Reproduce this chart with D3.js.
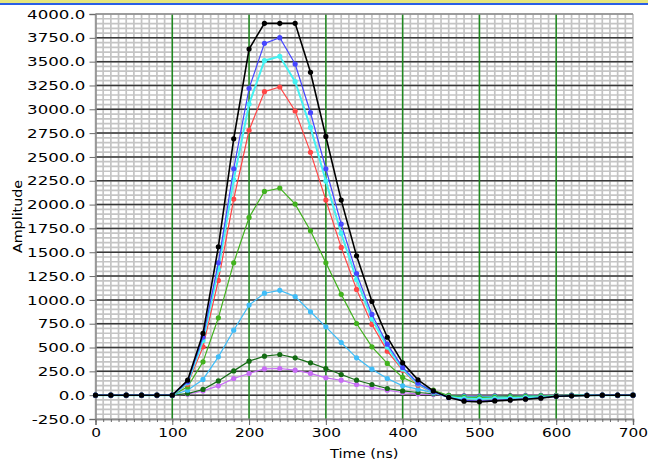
<!DOCTYPE html>
<html>
<head>
<meta charset="utf-8">
<script src="https://cdn.jsdelivr.net/npm/d3@7"></script>
<style>
  body { margin: 0; background: #fff; }
  svg text { font-family: "DejaVu Sans", Verdana, sans-serif; fill: #000; }
</style>
</head>
<body>
<div id="chart"></div>
<script>
// sample times (ns), one point every 20 ns
var times = d3.range(0, 701, 20);

// amplitude of each trace
var blackSeries  = [0,0,0,0,0,0,157,648,1557,2690,3632,3902,3902,3902,3388,2715,2047,1462,983,608,339,161,45,-24,-63,-70,-60,-52,-42,-31,-12,-7,-3,0,0,0];
var blueSeries   = [0,0,0,0,0,0,140,610,1389,2376,3220,3692,3752,3475,2964,2376,1795,1277,847,535,291,125,35,-25,-55,-62,-55,-47,-38,-28,-12,-6,-2,0,0,0];
var cyanSeries   = [0,0,0,0,0,0,130,575,1320,2260,3055,3510,3556,3290,2810,2247,1697,1214,800,505,275,118,30,-18,-35,-40,-35,-30,-25,-20,-10,-5,-2,0,0,0];
var redSeries    = [0,0,0,0,0,0,115,507,1204,2058,2780,3185,3234,2982,2548,2047,1551,1110,742,462,262,105,28,-20,-45,-50,-45,-40,-33,-25,-10,-5,-2,0,0,0];
var greenSeries  = [0,0,0,0,0,0,87,350,812,1389,1865,2138,2173,2005,1725,1389,1058,752,507,333,186,112,52,-5,-22,-25,-22,-18,-15,-10,-5,-3,-1,0,0,0];
var skySeries    = [0,0,0,0,0,0,52,165,402,682,945,1070,1100,1035,875,717,553,392,273,175,98,63,24,-8,-15,-18,-16,-14,-10,-8,-5,-2,0,0,0,0];
var darkSeries   = [0,0,0,0,0,0,17,60,150,255,357,409,427,392,339,280,217,157,112,70,45,28,15,-3,-10,-12,-10,-8,-6,-4,-2,0,0,0,0,0];
var violetSeries = [0,0,0,0,0,0,10,45,98,175,228,276,280,262,228,182,157,112,81,52,28,12,8,-2,-5,-6,-5,-4,-3,-2,-1,0,0,0,0,0];

// tick values
var xMajorTicks = d3.range(0, 701, 100);
var xMinorTicks = d3.range(0, 701, 10);
var yMajorTicks = d3.range(-250, 4001, 250);
var yMinorTicks = d3.range(-250, 4001, 50);

// draw order: back to front
var traces = [
  { values: violetSeries, color: "#c76cf5", width: 1.2 },
  { values: darkSeries,   color: "#146c14", width: 1.2 },
  { values: skySeries,    color: "#40bdf8", width: 1.2 },
  { values: greenSeries,  color: "#42b21e", width: 1.2 },
  { values: redSeries,    color: "#ff4646", width: 1.2 },
  { values: cyanSeries,   color: "#44f2f2", width: 2 },
  { values: blueSeries,   color: "#4646ff", width: 1.2 },
  { values: blackSeries,  color: "#000000", width: 1.6 }
];

var svgWidth = 648;
var svgHeight = 461;

var svg = d3.select("#chart")
    .append("svg")
    .attr("width", svgWidth)
    .attr("height", svgHeight);

// window title strip
svg.append("rect").attr("x", 0).attr("y", 0).attr("width", svgWidth).attr("height", 3).attr("fill", "#e6e67c");
svg.append("rect").attr("x", 0).attr("y", 3).attr("width", svgWidth).attr("height", 2).attr("fill", "#2a5ee6");

var x = d3.scaleLinear().domain([0, 700]).range([95.5, 633]);
var y = d3.scaleLinear().domain([-250, 4000]).range([419, 14]);

var grid = svg.append("g");

// minor grid
grid.selectAll(".vminor")
    .data(xMinorTicks)
    .enter()
    .append("line")
    .attr("x1", d => x(d)).attr("x2", d => x(d))
    .attr("y1", y(4000)).attr("y2", y(-250))
    .attr("stroke", "#c4c4c4")
    .attr("stroke-width", 1.7);

grid.selectAll(".hminor")
    .data(yMinorTicks)
    .enter()
    .append("line")
    .attr("x1", x(0)).attr("x2", x(700))
    .attr("y1", d => y(d)).attr("y2", d => y(d))
    .attr("stroke", "#c4c4c4")
    .attr("stroke-width", 1.7);

// major grid
grid.selectAll(".hmajor")
    .data(yMajorTicks.filter(d => d > -250 && d < 4000))
    .enter()
    .append("line")
    .attr("x1", x(0)).attr("x2", x(700))
    .attr("y1", d => y(d)).attr("y2", d => y(d))
    .attr("stroke", "#3a3a3a")
    .attr("stroke-width", 1.5);

grid.selectAll(".vmajor")
    .data(xMajorTicks.filter(d => d > 0 && d < 700))
    .enter()
    .append("line")
    .attr("x1", d => x(d)).attr("x2", d => x(d))
    .attr("y1", y(4000)).attr("y2", y(-250))
    .attr("stroke", "#1f8a1f")
    .attr("stroke-width", 1.5);

// frame
grid.append("line")
    .attr("x1", x(0)).attr("x2", x(700)).attr("y1", y(4000)).attr("y2", y(4000))
    .attr("stroke", "#8a8a8a").attr("stroke-width", 1.5);

// axes, with a plain hyphen for negatives
var fmt1 = d3.format(".1f");
var leftAxis = d3.axisLeft(y)
    .tickValues(yMajorTicks)
    .tickFormat(d => fmt1(d).replace("\u2212", "-"))
    .tickSize(6)
    .tickPadding(2);

var yAxisG = svg.append("g")
    .attr("transform", `translate(${x(0)}, 0)`)
    .call(leftAxis);

var bottomAxis = d3.axisBottom(x)
    .tickValues(xMajorTicks)
    .tickFormat(d3.format("d"))
    .tickSize(6)
    .tickPadding(3);

var xAxisG = svg.append("g")
    .attr("transform", `translate(0, ${y(-250)})`)
    .call(bottomAxis);

var minorAxis = d3.axisBottom(x)
    .tickValues(xMinorTicks)
    .tickFormat("")
    .tickSize(3);

var xMinorG = svg.append("g")
    .attr("transform", `translate(0, ${y(-250)})`)
    .call(minorAxis);

[yAxisG, xAxisG, xMinorG].forEach(function(g) {
    g.select(".domain").attr("stroke", "#8a8a8a").attr("stroke-width", 1.5);
    g.selectAll(".tick line").attr("stroke", "#6a6a6a");
    g.selectAll("text")
        .attr("font-size", 13)
        .attr("font-family", "DejaVu Sans");
});
yAxisG.selectAll("text").attr("transform", "scale(1.28,1)");
xAxisG.selectAll("text").attr("transform", "scale(1.18,1)");

// traces
var line = d3.line()
    .x((d, i) => x(times[i]))
    .y(d => y(d));

traces.forEach(function(tr) {
    var g = svg.append("g");
    g.append("path")
        .datum(tr.values)
        .attr("d", line)
        .attr("fill", "none")
        .attr("stroke", tr.color)
        .attr("stroke-width", tr.width);
    g.selectAll("circle")
        .data(tr.values)
        .enter()
        .append("circle")
        .attr("cx", (d, i) => x(times[i]))
        .attr("cy", d => y(d))
        .attr("r", 2.6)
        .attr("fill", tr.color);
});

// axis titles
svg.append("text")
    .attr("transform", `translate(22, ${(y(4000) + y(-250)) / 2}) rotate(-90) scale(1.1,1)`)
    .attr("text-anchor", "middle")
    .attr("font-size", 13)
    .text("Amplitude");

svg.append("text")
    .attr("transform", `translate(${(x(0) + x(700)) / 2}, 458) scale(1.12,1)`)
    .attr("text-anchor", "middle")
    .attr("font-size", 13)
    .text("Time (ns)");
</script>
</body>
</html>
